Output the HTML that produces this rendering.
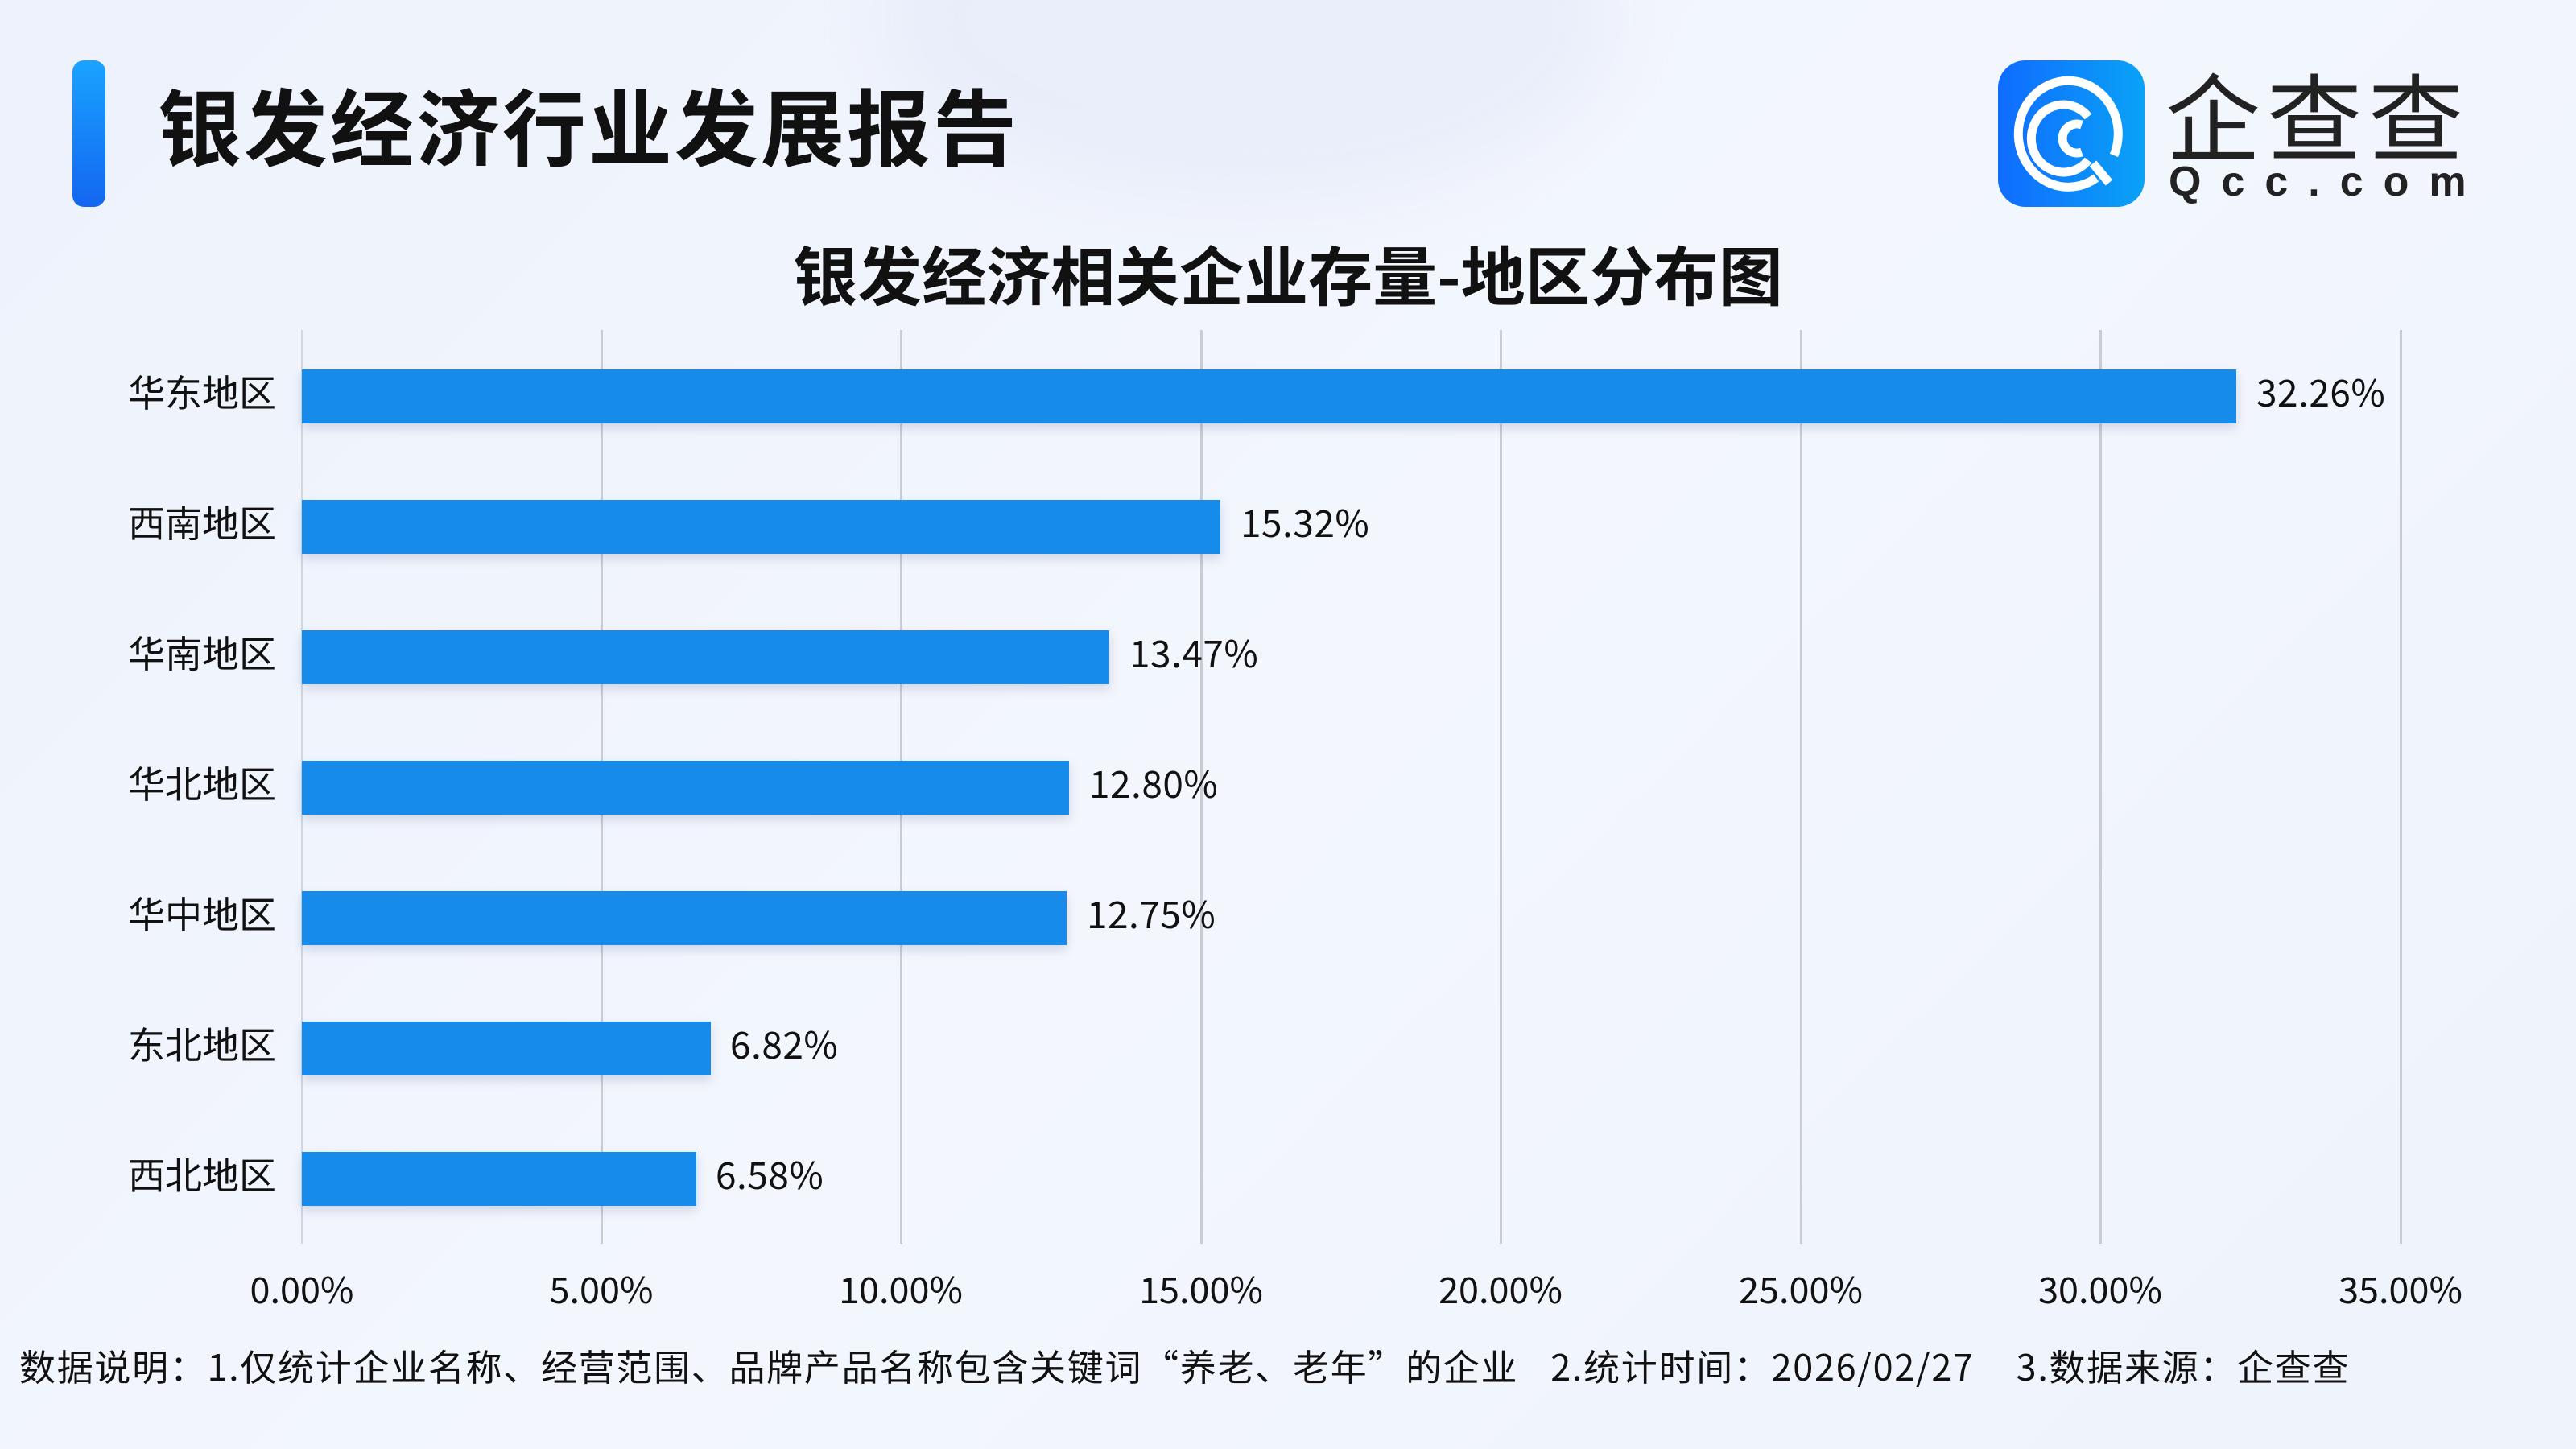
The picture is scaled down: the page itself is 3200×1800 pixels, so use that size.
<!DOCTYPE html>
<html><head><meta charset="utf-8"><style>
body{margin:0;width:3200px;height:1800px;overflow:hidden;font-family:"Noto Sans CJK SC","Liberation Sans",sans-serif;}
.bg{position:absolute;left:0;top:0;width:3200px;height:1800px;background:linear-gradient(135deg,#edf2fc 0%,#f3f6fd 50%,#eef3fc 100%);}
.t{position:absolute;white-space:nowrap;color:#111;}
.grid{position:absolute;top:410px;height:1135px;width:3px;background:#c9ccd3;}
.bar{position:absolute;left:375px;height:67px;background:#168bea;box-shadow:0 6px 12px rgba(60,80,140,0.18);}
.cat{position:absolute;right:2857px;font-size:46px;line-height:67px;color:#111;margin-top:-6px;}
.val{position:absolute;font-size:46px;line-height:67px;color:#111;margin-top:-6px;letter-spacing:0.5px}
.tick{position:absolute;top:1570px;font-size:45px;line-height:60px;width:300px;text-align:center;color:#111;}
</style></head><body>
<div class="bg"></div>
<div style="position:absolute;left:1100px;top:-200px;width:900px;height:450px;border-radius:50%;background:rgba(225,232,248,0.5);filter:blur(40px)"></div>
<div style="position:absolute;left:90px;top:75px;width:41px;height:182px;border-radius:14px;background:linear-gradient(180deg,#1aa3ff,#1366f0)"></div>
<div class="t" style="left:196px;top:88px;font-size:104px;font-weight:bold;line-height:130px;letter-spacing:3px">银发经济行业发展报告</div>
<div style="position:absolute;left:2482px;top:75px;width:182px;height:182px;border-radius:34px;background:linear-gradient(90deg,#0f6cff,#0aa2f6)">
<svg width="182" height="182" viewBox="0 0 182 182"><g fill="none" stroke="#fff" stroke-width="11" stroke-linecap="butt">
<path d="M122 146 A62 66 0 1 1 144 118"/><path d="M112 70 A40 42 0 1 0 112 124"/><path d="M104 80 A18 18 0 1 0 104 114"/><line x1="118" y1="128" x2="138" y2="152"/></g></svg></div>
<div class="t" style="left:2690px;top:70px;font-size:118px;line-height:140px;color:#222;letter-spacing:8px">企查查</div>
<div class="t" style="left:2694px;top:198px;font-size:52px;line-height:56px;color:#222;letter-spacing:25px;font-weight:bold;font-family:'Liberation Sans',sans-serif">Qcc.com</div>
<div class="t" style="left:0;width:3200px;text-align:center;top:286px;font-size:80px;font-weight:bold;line-height:106px">银发经济相关企业存量-地区分布图</div>

<div class="grid" style="left:374px;width:2px;background:#d3d6dc"></div>
<div class="grid" style="left:746px"></div><div class="grid" style="left:1118px"></div><div class="grid" style="left:1491px"></div><div class="grid" style="left:1863px"></div><div class="grid" style="left:2236px"></div><div class="grid" style="left:2608px"></div><div class="grid" style="left:2981px"></div>

<div class="bar" style="top:459px;width:2403px"></div><div class="cat" style="top:459px">华东地区</div><div class="val" style="top:459px;left:2803px">32.26%</div>
<div class="bar" style="top:621px;width:1141px"></div><div class="cat" style="top:621px">西南地区</div><div class="val" style="top:621px;left:1541px">15.32%</div>
<div class="bar" style="top:783px;width:1003px"></div><div class="cat" style="top:783px">华南地区</div><div class="val" style="top:783px;left:1403px">13.47%</div>
<div class="bar" style="top:945px;width:953px"></div><div class="cat" style="top:945px">华北地区</div><div class="val" style="top:945px;left:1353px">12.80%</div>
<div class="bar" style="top:1107px;width:950px"></div><div class="cat" style="top:1107px">华中地区</div><div class="val" style="top:1107px;left:1350px">12.75%</div>
<div class="bar" style="top:1269px;width:508px"></div><div class="cat" style="top:1269px">东北地区</div><div class="val" style="top:1269px;left:907px">6.82%</div>
<div class="bar" style="top:1431px;width:490px"></div><div class="cat" style="top:1431px">西北地区</div><div class="val" style="top:1431px;left:889px">6.58%</div>

<div class="tick" style="left:225px">0.00%</div><div class="tick" style="left:597px">5.00%</div><div class="tick" style="left:969px">10.00%</div><div class="tick" style="left:1342px">15.00%</div><div class="tick" style="left:1714px">20.00%</div><div class="tick" style="left:2087px">25.00%</div><div class="tick" style="left:2459px">30.00%</div><div class="tick" style="left:2832px">35.00%</div>

<div class="t" style="left:24px;top:1664px;font-size:45px;line-height:64px;letter-spacing:1.7px">数据说明：1.仅统计企业名称、经营范围、品牌产品名称包含关键词“养老、老年”的企业<span style="display:inline-block;width:40px"></span>2.统计时间：2026/02/27<span style="display:inline-block;width:52px"></span>3.数据来源：企查查</div>
</body></html>
